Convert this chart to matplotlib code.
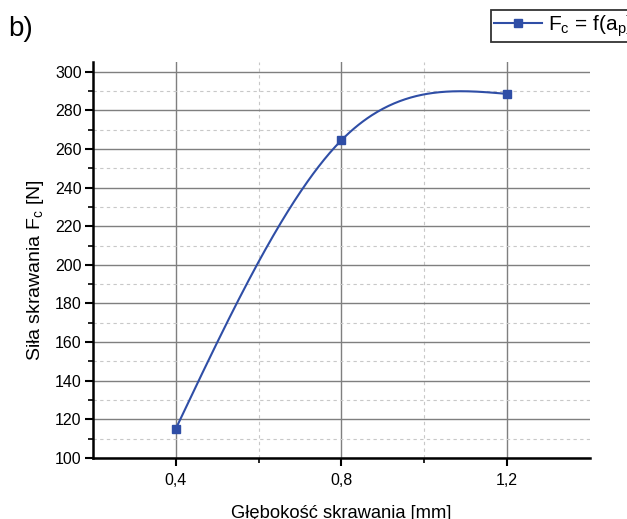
import numpy as np
import matplotlib
matplotlib.use("Agg")
import matplotlib.pyplot as plt
from matplotlib.ticker import MultipleLocator, FixedLocator

plt.rcParams['font.family'] = ['Liberation Sans', 'DejaVu Sans']
plt.rcParams['mathtext.fontset'] = 'custom'
plt.rcParams['mathtext.rm'] = 'Liberation Sans'

# dane
glebokosc = [0.4, 0.8, 1.2]        # a_p [mm]
sila = [115, 264.5, 288.5]         # F_c [N]
x_ticks = [0.4, 0.8, 1.2]
x_labels = ["0,4", "0,8", "1,2"]

kolor = '#2f4ea6'


def spline_naturalny(x, y, xs):
    # naturalny splajn kubiczny (jak w Origin)
    x = np.asarray(x, float)
    y = np.asarray(y, float)
    n = len(x)
    h = np.diff(x)
    A = np.zeros((n, n))
    b = np.zeros(n)
    A[0, 0] = 1
    A[-1, -1] = 1
    for i in range(1, n - 1):
        A[i, i - 1] = h[i - 1]
        A[i, i] = 2 * (h[i - 1] + h[i])
        A[i, i + 1] = h[i]
        b[i] = 6 * ((y[i + 1] - y[i]) / h[i] - (y[i] - y[i - 1]) / h[i - 1])
    M = np.linalg.solve(A, b)
    idx = np.clip(np.searchsorted(x, xs) - 1, 0, n - 2)
    x0, x1 = x[idx], x[idx + 1]
    hh = h[idx]
    return (M[idx] * (x1 - xs) ** 3 / (6 * hh) + M[idx + 1] * (xs - x0) ** 3 / (6 * hh)
            + (y[idx] / hh - M[idx] * hh / 6) * (x1 - xs)
            + (y[idx + 1] / hh - M[idx + 1] * hh / 6) * (xs - x0))


fig = plt.figure(figsize=(6.27, 5.19), dpi=100)
ax = fig.add_axes([0.148, 0.1175, 0.793, 0.763])

xs = np.linspace(glebokosc[0], glebokosc[-1], 300)
ax.plot(xs, spline_naturalny(glebokosc, sila, xs), color=kolor, lw=1.5, zorder=3)
ax.plot(glebokosc, sila, 's', color=kolor, ms=6, zorder=4)

ax.set_xlim(0.2, 1.4)
ax.set_ylim(100, 305)
ax.set_xticks(x_ticks)
ax.set_xticklabels(x_labels)
ax.xaxis.set_minor_locator(FixedLocator([0.6, 1.0]))
ax.yaxis.set_major_locator(MultipleLocator(20))
ax.yaxis.set_minor_locator(FixedLocator(list(range(110, 300, 20))))

ax.grid(which='major', color='#7f7f7f', lw=1.0)
ax.grid(which='minor', color='#c8c8c8', lw=0.8, ls=(0, (3, 3)))
ax.set_axisbelow(True)

for s in ['top', 'right']:
    ax.spines[s].set_visible(False)
for s in ['left', 'bottom']:
    ax.spines[s].set_linewidth(1.8)
ax.tick_params(which='major', direction='out', length=6, width=1.5, labelsize=11.5, pad=2)
ax.tick_params(which='minor', direction='out', length=3.5, width=1.2)
ax.tick_params(axis='x', pad=5)

ax.set_ylabel(r'Siła skrawania F$_\mathregular{c}$ [N]', fontsize=14)
ax.yaxis.set_label_coords(-0.095, 0.475)
ax.set_xlabel('Głębokość skrawania [mm]', fontsize=13.2, labelpad=12)

fig.text(0.013, 0.945, 'b)', fontsize=20, va='center', ha='left')

h, = ax.plot([], [], '-s', color=kolor, lw=1.5, ms=6)
leg = fig.legend([h], [r'F$_\mathregular{c}$ = f(a$_\mathregular{p}$)'], loc='upper left',
                 bbox_to_anchor=(491 / 627, 1 - 10 / 519), borderaxespad=0, fontsize=15,
                 frameon=True, fancybox=False, edgecolor='black', handlelength=2.3,
                 borderpad=0.15, handletextpad=0.3)
leg.get_frame().set_linewidth(1.3)

fig.savefig('out.png', dpi=100)
